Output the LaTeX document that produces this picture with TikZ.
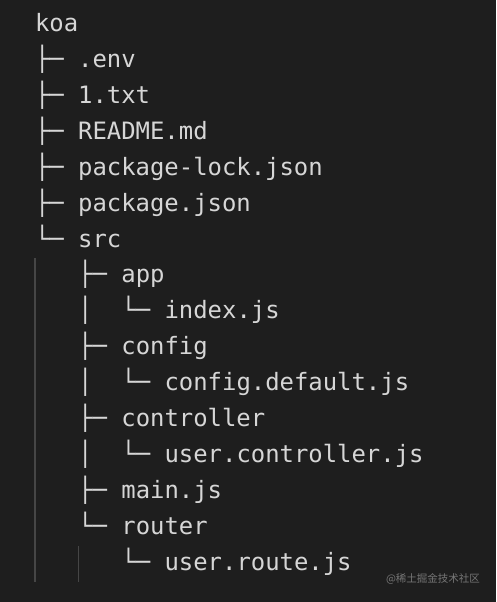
\documentclass[tikz,border=0pt]{standalone}
\usepackage{fontspec}
\newfontfamily\codefont{DejaVu Sans Mono}
\newfontfamily\cjkfont{Noto Sans CJK SC}
\definecolor{bgc}{HTML}{1E1E1E}
\definecolor{txt}{HTML}{D6D6D6}
\definecolor{guidec}{HTML}{464646}
\definecolor{wmc}{HTML}{767676}
\tikzset{
  line/.style={anchor=base west, inner sep=0pt, outer sep=0pt, text=txt,
    font=\codefont\fontsize{23.9}{28}\selectfont},
  guide/.style={draw=guidec, line width=1.2pt},
  wmark/.style={anchor=center, inner sep=0pt, text=wmc, font=\cjkfont\fontsize{10.5}{12}\selectfont}
}
\begin{document}
\begin{tikzpicture}[x=1pt,y=1pt]
\fill[bgc] (0,0) rectangle (496,602);
\useasboundingbox (0,0) rectangle (496,602);
% columns: x = 35 + col*14.4 ; rows: y = 570.3 - 35.9*i
\node[line] (r0)  at (35,570.3) {koa};
\node[line] (r1)  at (35,534.4) {├─ .env};
\node[line] (r2)  at (35,498.5) {├─ 1.txt};
\node[line] (r3)  at (35,462.6) {├─ README.md};
\node[line] (r4)  at (35,426.7) {├─ package-lock.json};
\node[line] (r5)  at (35,390.8) {├─ package.json};
\node[line] (r6)  at (35,354.9) {└─ src};
\node[line] (r7)  at (78.2,319.0) {├─ app};
\node[line] (p8)  at (78.2,283.1) {│};
\node[line] (r8)  at (121.4,283.1) {└─ index.js};
\node[line] (r9)  at (78.2,247.2) {├─ config};
\node[line] (p10) at (78.2,211.3) {│};
\node[line] (r10) at (121.4,211.3) {└─ config.default.js};
\node[line] (r11) at (78.2,175.4) {├─ controller};
\node[line] (p12) at (78.2,139.5) {│};
\node[line] (r12) at (121.4,139.5) {└─ user.controller.js};
\node[line] (r13) at (78.2,103.6) {├─ main.js};
\node[line] (r14) at (78.2,67.7) {└─ router};
\node[line] (r15) at (121.4,31.8) {└─ user.route.js};
% indent guides
\coordinate (g1a) at (35,344);
\coordinate (g1b) at (35,20);
\coordinate (g2a) at (78.2,56);
\coordinate (g2b) at (78.2,20);
\draw[guide] (g1a) -- (g1b);
\draw[guide] (g2a) -- (g2b);
% watermark
\node[wmark] (wm) at (433,23) {@稀土掘金技术社区};
\end{tikzpicture}
\end{document}
